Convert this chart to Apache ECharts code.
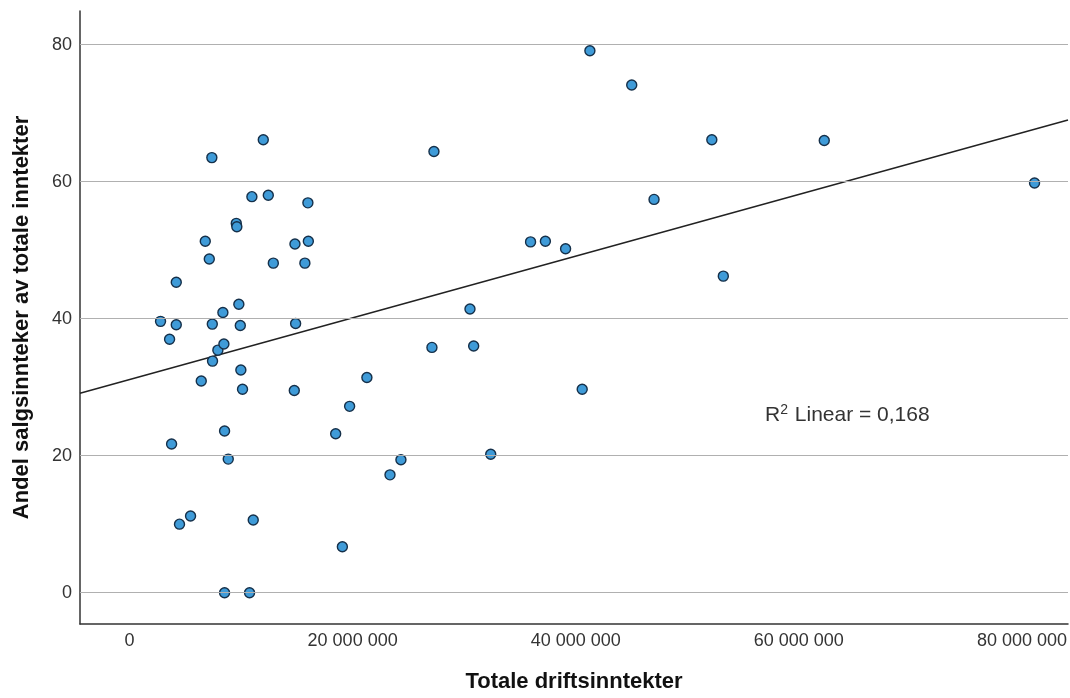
<!DOCTYPE html>
<html>
<head>
<meta charset="utf-8">
<script src="https://cdn.jsdelivr.net/npm/echarts@6/dist/echarts.min.js"></script>
<style>
html,body{margin:0;padding:0;background:#fff;}
#chart{width:1070px;height:698px;}
</style>
</head>
<body>
<div id="chart"></div>
<script>
// Totale driftsinntekter (x) and Andel salgsinntekter av totale inntekter (y)
const driftsinntekter = [2780000,3590000,3770000,4190000,4190000,4480000,5470000,6430000,6790000,7150000,
  7380000,7420000,7440000,7920000,8460000,8370000,8520000,8520000,8850000,9570000,
  9620000,9800000,9930000,9980000,10130000,10760000,10970000,11090000,11990000,12440000,
  12890000,14770000,14830000,14890000,15720000,15990000,16030000,18480000,19080000,19730000,
  21280000,23350000,24330000,27110000,27290000,30520000,30850000,32380000,35950000,37280000,
  39090000,40580000,41270000,45020000,47020000,52200000,53230000,62280000,81130000];
const andelSalg = [39.6,37.0,21.7,45.3,39.1,10.0,11.2,30.9,51.3,48.7,
  63.5,39.2,33.8,35.4,36.3,40.9,23.6,0.0,19.5,53.9,
  53.4,42.1,39.0,32.5,29.7,0.0,57.8,10.6,66.1,58.0,
  48.1,29.5,50.9,39.3,48.1,56.9,51.3,23.2,6.7,27.2,
  31.4,17.2,19.4,35.8,64.4,41.4,36.0,20.2,51.2,51.3,
  50.2,29.7,79.1,74.1,57.4,66.1,46.2,66.0,59.8];
// Linear fit line, endpoints
const fitX = [-4440000, 84130000];
const fitY = [29.1, 69.0];
const xTicks = [0, 20000000, 40000000, 60000000, 80000000];
const yTicks = [0, 20, 40, 60, 80];
const r2Text = '0,168';

const points = driftsinntekter.map((v, i) => [v, andelSalg[i]]);
const fitLine = fitX.map((v, i) => [v, fitY[i]]);

function fmtThousands(v) {
  return String(Math.round(v)).replace(/\B(?=(\d{3})+(?!\d))/g, ' ');
}

const chart = echarts.init(document.getElementById('chart'), null, {renderer: 'canvas'});
const font = '"Liberation Sans", Arial, sans-serif';
chart.setOption({
  animation: false,
  backgroundColor: '#ffffff',
  grid: {left: 80, right: 2, top: 11, bottom: 74},
  xAxis: {
    type: 'value',
    min: fitX[0], max: fitX[1],
    name: 'Totale driftsinntekter',
    nameLocation: 'middle',
    nameGap: 47,
    nameTextStyle: {fontFamily: font, fontSize: 22, fontWeight: 'bold', color: '#111'},
    axisLine: {show: true, onZero: false, lineStyle: {color: '#333', width: 1.5}},
    axisTick: {show: false},
    splitLine: {show: false},
    axisLabel: {
      customValues: xTicks,
      formatter: fmtThousands,
      fontFamily: font, fontSize: 18, color: '#333', margin: 8
    }
  },
  yAxis: {
    type: 'value',
    min: -4.57, max: 84.9,
    name: 'Andel salgsinnteker av totale inntekter',
    nameLocation: 'middle',
    nameGap: 47,
    nameTextStyle: {fontFamily: font, fontSize: 22, fontWeight: 'bold', color: '#111'},
    axisLine: {show: true, onZero: false, lineStyle: {color: '#333', width: 1.5}},
    axisTick: {show: false},
    splitLine: {show: false},
    axisLabel: {
      customValues: yTicks,
      fontFamily: font, fontSize: 18, color: '#333', margin: 8
    }
  },
  series: [
    {
      type: 'line',
      data: [],
      silent: true,
      z: 1,
      markLine: {
        silent: true,
        symbol: ['none', 'none'],
        label: {show: false},
        lineStyle: {color: '#b0b0b0', width: 1, type: 'solid'},
        data: yTicks.map(v => ({yAxis: v}))
      }
    },
    {
      type: 'line',
      data: fitLine,
      symbol: 'none',
      silent: true,
      z: 2,
      lineStyle: {color: '#222', width: 1.5}
    },
    {
      type: 'scatter',
      data: points,
      symbol: 'circle',
      symbolSize: 10,
      z: 3,
      itemStyle: {color: '#3f9bd8', borderColor: '#15304a', borderWidth: 1.4, opacity: 1}
    }
  ],
  graphic: [
    {
      type: 'text',
      left: 765,
      top: 403,
      style: {
        text: 'R{sup|2} Linear = ' + r2Text,
        fontFamily: font,
        fontSize: 21,
        fill: '#333',
        rich: {
          sup: {fontSize: 14, fill: '#333', verticalAlign: 'top', padding: [0, 1, 10, 0], fontFamily: font}
        }
      }
    }
  ]
});
</script>
</body>
</html>
